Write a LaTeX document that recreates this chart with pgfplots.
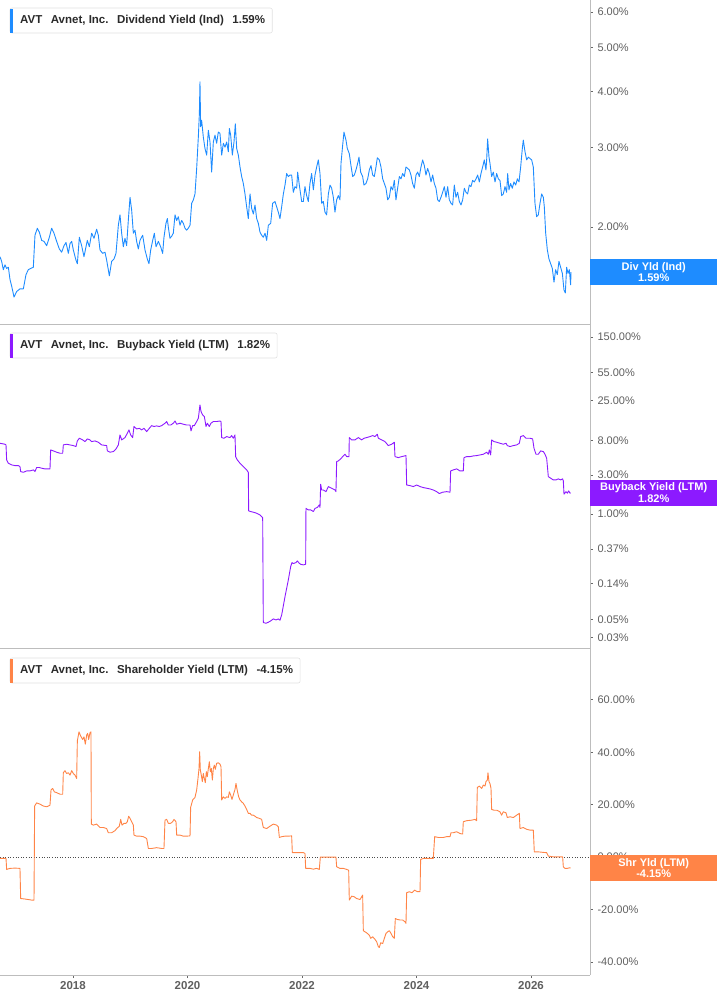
\documentclass[border=0pt]{standalone}
\usepackage{pgfplots}
\pgfplotsset{compat=1.18}
\usepackage{fontspec}
\setmainfont{Liberation Sans}
\usetikzlibrary{calc}
\definecolor{divblue}{HTML}{1E8CFF}
\definecolor{bbpurple}{HTML}{8C1AFF}
\definecolor{shrorange}{HTML}{FF8447}
\definecolor{axisgray}{HTML}{BDBDBD}
\definecolor{ticktext}{HTML}{5F5F5F}
\definecolor{titletext}{HTML}{2A2A2A}

\pgfplotsset{
  panel/.style={
    scale only axis, width=590pt,
    xmin=2016.725, xmax=2027.03,
    axis x line*=bottom, axis y line*=right,
    axis line style={axisgray, line width=0.8pt},
    tick align=outside, major tick length=3pt,
    tick style={black!60, line width=0.8pt},
    yticklabel style={font=\fontsize{11}{13}\selectfont, text=ticktext, xshift=1pt},
    every axis plot/.append style={line width=0.9pt, line join=round, mark=none},
  },
}

% series title box, top left of each panel
\newcommand{\seriesbox}[4]{%
  \node[anchor=west, inner sep=0pt, text=titletext,
        font=\fontsize{11.5}{13}\selectfont\bfseries] (#1) at (20pt,#2) {#4};
  \draw[black!12, line width=0.6pt, rounded corners=2pt]
    ($(#1.west)+(-10pt,12.5pt)$) rectangle ($(#1.east)+(7pt,-12.5pt)$);
  \fill[#3] ($(#1.west)+(-10pt,12pt)$) rectangle ($(#1.west)+(-7pt,-12pt)$);
}
\newcommand{\gap}{\hspace{8.5pt}}
\tikzset{valbox/.style={fill=#1, text=white, anchor=west, minimum width=127pt,
  minimum height=26pt, inner sep=0pt, align=center,
  font=\fontsize{11}{11.5}\selectfont\bfseries}}

\begin{document}
\begin{tikzpicture}
\path[use as bounding box] (0,0) rectangle (717pt,-1005pt);

% ---------------- dividend yield
\begin{axis}[panel, at={(0pt,0pt)}, anchor=north west, height=324pt,
  ymode=log, ymin=1.22, ymax=6.38, xtick=\empty,
  ytick={2,3,4,5,6},
  yticklabels={2.00\%,3.00\%,4.00\%,5.00\%,6.00\%}]
\addplot[divblue] coordinates {
(2016.725,1.72)(2016.754,1.68)(2016.783,1.61)(2016.812,1.65)(2016.841,1.62)(2016.871,1.63)
(2016.900,1.53)(2016.929,1.48)(2016.970,1.40)(2017.016,1.44)(2017.074,1.46)(2017.133,1.46)
(2017.179,1.57)(2017.220,1.61)(2017.261,1.62)(2017.307,1.63)(2017.336,1.92)(2017.377,1.99)
(2017.412,1.95)(2017.453,1.87)(2017.494,1.86)(2017.540,1.82)(2017.587,1.90)(2017.627,1.99)
(2017.668,1.94)(2017.715,1.86)(2017.761,1.79)(2017.802,1.76)(2017.843,1.82)(2017.878,1.85)
(2017.919,1.75)(2017.948,1.84)(2017.977,1.86)(2018.006,1.78)(2018.052,1.69)(2018.076,1.66)
(2018.111,1.90)(2018.151,1.82)(2018.192,1.72)(2018.227,1.81)(2018.250,1.87)(2018.285,1.81)
(2018.326,1.94)(2018.367,1.89)(2018.413,1.98)(2018.442,1.92)(2018.472,1.78)(2018.518,1.75)
(2018.559,1.76)(2018.588,1.69)(2018.635,1.56)(2018.675,1.68)(2018.716,1.70)(2018.751,1.75)
(2018.792,2.02)(2018.821,2.13)(2018.850,1.94)(2018.879,1.81)(2018.908,1.89)(2018.937,1.82)
(2018.966,2.07)(2018.996,2.33)(2019.025,2.18)(2019.054,1.94)(2019.083,1.97)(2019.112,1.86)
(2019.141,1.79)(2019.170,1.87)(2019.217,1.92)(2019.258,1.78)(2019.298,1.70)(2019.327,1.66)
(2019.357,1.78)(2019.392,1.87)(2019.421,1.94)(2019.450,1.81)(2019.491,1.86)(2019.531,1.81)
(2019.566,1.75)(2019.589,1.90)(2019.624,2.04)(2019.648,2.09)(2019.665,2.00)(2019.694,1.89)
(2019.723,1.91)(2019.752,1.94)(2019.782,2.13)(2019.811,2.07)(2019.840,2.11)(2019.869,2.02)
(2019.898,2.07)(2019.927,2.04)(2019.956,1.99)(2019.985,1.97)(2020.014,1.99)(2020.044,2.02)
(2020.073,2.26)(2020.102,2.30)(2020.131,2.37)(2020.160,2.70)(2020.189,3.17)(2020.207,3.56)
(2020.218,4.20)(2020.230,3.34)(2020.247,3.45)(2020.276,3.17)(2020.305,2.99)(2020.335,2.89)
(2020.364,3.28)(2020.393,3.09)(2020.422,2.65)(2020.451,3.09)(2020.480,3.20)(2020.509,3.07)
(2020.538,3.25)(2020.567,3.23)(2020.597,2.89)(2020.626,3.07)(2020.655,3.01)(2020.684,3.09)
(2020.713,2.94)(2020.731,3.31)(2020.754,3.20)(2020.783,2.89)(2020.812,3.09)(2020.835,3.39)
(2020.859,2.99)(2020.888,2.89)(2020.917,2.72)(2020.946,2.59)(2020.975,2.50)(2021.004,2.37)
(2021.033,2.22)(2021.062,2.09)(2021.092,2.37)(2021.121,2.20)(2021.150,2.14)(2021.179,2.24)
(2021.208,2.09)(2021.237,2.04)(2021.266,1.95)(2021.295,1.92)(2021.324,1.90)(2021.354,1.94)
(2021.383,1.87)(2021.412,2.02)(2021.453,2.04)(2021.487,2.26)(2021.528,2.28)(2021.557,2.22)
(2021.586,2.16)(2021.615,2.09)(2021.645,2.22)(2021.674,2.37)(2021.703,2.48)(2021.732,2.63)
(2021.761,2.59)(2021.790,2.61)(2021.819,2.61)(2021.848,2.39)(2021.877,2.46)(2021.907,2.44)
(2021.924,2.65)(2021.953,2.48)(2021.965,2.42)(2021.994,2.28)(2022.023,2.28)(2022.052,2.46)
(2022.081,2.35)(2022.110,2.28)(2022.139,2.50)(2022.168,2.63)(2022.198,2.42)(2022.227,2.61)
(2022.256,2.72)(2022.285,2.82)(2022.314,2.63)(2022.343,2.26)(2022.372,2.28)(2022.401,2.16)
(2022.430,2.13)(2022.460,2.37)(2022.489,2.48)(2022.518,2.44)(2022.547,2.33)(2022.576,2.16)
(2022.605,2.30)(2022.634,2.35)(2022.663,2.30)(2022.681,2.77)(2022.710,3.04)(2022.733,3.25)
(2022.768,3.12)(2022.791,2.99)(2022.826,2.91)(2022.855,2.74)(2022.885,2.59)(2022.914,2.61)
(2022.943,2.68)(2022.972,2.77)(2022.995,2.86)(2023.024,2.65)(2023.059,2.59)(2023.082,2.48)
(2023.117,2.50)(2023.147,2.56)(2023.176,2.68)(2023.205,2.74)(2023.234,2.61)(2023.263,2.59)
(2023.292,2.72)(2023.315,2.85)(2023.350,2.82)(2023.379,2.72)(2023.409,2.56)(2023.438,2.50)
(2023.467,2.44)(2023.496,2.30)(2023.525,2.33)(2023.554,2.46)(2023.583,2.42)(2023.612,2.54)
(2023.641,2.30)(2023.670,2.44)(2023.700,2.59)(2023.729,2.56)(2023.758,2.63)(2023.787,2.59)
(2023.816,2.72)(2023.845,2.70)(2023.874,2.68)(2023.903,2.61)(2023.932,2.50)(2023.962,2.44)
(2023.991,2.61)(2024.020,2.65)(2024.049,2.59)(2024.078,2.72)(2024.107,2.82)(2024.136,2.74)
(2024.165,2.61)(2024.194,2.70)(2024.224,2.63)(2024.253,2.52)(2024.282,2.61)(2024.311,2.50)
(2024.340,2.44)(2024.369,2.30)(2024.398,2.28)(2024.427,2.33)(2024.456,2.39)(2024.486,2.46)
(2024.515,2.33)(2024.544,2.46)(2024.573,2.30)(2024.602,2.26)(2024.631,2.24)(2024.660,2.48)
(2024.689,2.33)(2024.718,2.39)(2024.748,2.28)(2024.777,2.24)(2024.806,2.30)(2024.835,2.44)
(2024.864,2.39)(2024.893,2.37)(2024.922,2.48)(2024.951,2.46)(2024.980,2.54)(2025.010,2.52)
(2025.039,2.56)(2025.068,2.61)(2025.097,2.52)(2025.126,2.63)(2025.155,2.72)(2025.184,2.82)
(2025.213,2.68)(2025.225,2.82)(2025.242,3.14)(2025.266,2.86)(2025.283,2.77)(2025.312,2.59)
(2025.341,2.65)(2025.371,2.52)(2025.400,2.63)(2025.429,2.56)(2025.458,2.54)(2025.487,2.35)
(2025.516,2.37)(2025.545,2.46)(2025.574,2.39)(2025.592,2.63)(2025.615,2.42)(2025.644,2.50)
(2025.673,2.44)(2025.702,2.52)(2025.732,2.48)(2025.761,2.56)(2025.790,2.52)(2025.819,2.72)
(2025.848,2.99)(2025.865,3.12)(2025.895,2.94)(2025.924,2.82)(2025.953,2.86)(2025.982,2.84)
(2026.011,2.82)(2026.040,2.72)(2026.069,2.26)(2026.098,2.11)(2026.127,2.13)(2026.157,2.26)
(2026.186,2.37)(2026.215,2.33)(2026.232,2.22)(2026.256,1.94)(2026.285,1.78)(2026.314,1.70)
(2026.343,1.66)(2026.372,1.62)(2026.401,1.51)(2026.430,1.61)(2026.459,1.57)(2026.488,1.68)
(2026.517,1.63)(2026.547,1.58)(2026.576,1.45)(2026.599,1.43)(2026.622,1.63)(2026.646,1.58)
(2026.669,1.61)(2026.692,1.49)(2026.698,1.59)
};
\coordinate (lab1) at (axis cs:2027.03,1.59);
\end{axis}
\node[valbox=divblue] at (lab1) {Div Yld (Ind)\\1.59\%};
\seriesbox{t1}{-20.5pt}{divblue}{AVT\gap Avnet, Inc.\gap Dividend Yield (Ind)\gap 1.59\%}

% ---------------- buyback yield
\begin{axis}[panel, at={(0pt,-324pt)}, anchor=north west, height=324pt,
  ymode=log, ymin=0.0224, ymax=217, xtick=\empty,
  ytick={0.03,0.05,0.14,0.37,1,3,8,25,55,150},
  yticklabels={0.03\%,0.05\%,0.14\%,0.37\%,1.00\%,3.00\%,8.00\%,25.00\%,55.00\%,150.00\%}]
\addplot[bbpurple] coordinates {
(2016.725,7.40)(2016.812,7.20)(2016.830,7.06)(2016.841,4.62)(2016.871,4.20)(2016.929,4.01)
(2016.987,3.93)(2017.045,3.93)(2017.074,3.82)(2017.086,3.32)(2017.133,3.25)(2017.191,3.38)
(2017.249,3.38)(2017.307,3.48)(2017.336,3.32)(2017.365,3.72)(2017.412,3.72)(2017.453,3.65)
(2017.511,3.58)(2017.569,3.58)(2017.598,3.58)(2017.610,6.13)(2017.657,5.96)(2017.715,5.74)
(2017.773,5.58)(2017.820,5.58)(2017.831,7.06)(2017.889,7.20)(2017.948,7.06)(2018.006,6.93)
(2018.052,6.74)(2018.076,7.91)(2018.111,8.53)(2018.169,8.14)(2018.210,7.76)(2018.250,8.37)
(2018.297,8.14)(2018.326,7.76)(2018.384,7.91)(2018.442,7.62)(2018.501,7.06)(2018.588,6.93)
(2018.600,5.96)(2018.646,5.74)(2018.705,5.85)(2018.751,6.30)(2018.792,7.06)(2018.821,9.37)
(2018.850,8.14)(2018.908,8.69)(2018.949,9.83)(2018.978,10.8)(2019.007,9.37)(2019.042,8.69)
(2019.065,11.9)(2019.112,11.1)(2019.159,11.3)(2019.199,10.8)(2019.240,11.3)(2019.287,10.3)
(2019.333,11.3)(2019.374,12.2)(2019.415,11.9)(2019.461,12.1)(2019.508,11.9)(2019.549,12.2)
(2019.607,13.05)(2019.636,13.7)(2019.665,12.4)(2019.706,12.4)(2019.752,13.05)(2019.782,13.9)
(2019.811,12.7)(2019.869,13.05)(2019.927,12.7)(2019.985,12.4)(2020.044,12.4)(2020.061,10.5)
(2020.090,12.2)(2020.119,12.2)(2020.160,13.7)(2020.189,15.0)(2020.207,19.0)(2020.218,21.9)
(2020.236,18.2)(2020.265,16.5)(2020.294,15.8)(2020.323,11.9)(2020.346,13.05)(2020.381,11.9)
(2020.410,13.05)(2020.451,13.7)(2020.509,13.7)(2020.567,13.9)(2020.585,13.7)(2020.597,8.69)
(2020.637,8.53)(2020.684,8.94)(2020.742,8.69)(2020.771,9.20)(2020.800,8.53)(2020.829,9.37)
(2020.841,5.07)(2020.870,4.62)(2020.917,4.20)(2020.975,3.82)(2021.033,3.48)(2021.062,3.25)
(2021.068,1.09)(2021.103,1.07)(2021.150,1.05)(2021.208,1.02)(2021.266,0.972)(2021.313,0.901)
(2021.324,0.0461)(2021.371,0.0452)(2021.412,0.0465)(2021.453,0.0483)(2021.499,0.0511)
(2021.546,0.0496)(2021.586,0.0511)(2021.615,0.0492)(2021.645,0.0572)(2021.703,0.0961)
(2021.761,0.154)(2021.802,0.225)(2021.825,0.252)(2021.848,0.245)(2021.895,0.252)
(2021.918,0.264)(2021.953,0.247)(2021.976,0.240)(2022.023,0.236)(2022.064,0.240)
(2022.069,1.17)(2022.110,1.12)(2022.151,1.12)(2022.198,1.07)(2022.227,1.17)(2022.267,1.20)
(2022.302,1.29)(2022.314,1.20)(2022.326,2.32)(2022.343,1.97)(2022.372,1.97)(2022.419,1.88)
(2022.460,2.17)(2022.518,2.07)(2022.576,1.97)(2022.593,1.88)(2022.605,4.40)(2022.634,4.49)
(2022.675,4.75)(2022.710,5.07)(2022.751,5.42)(2022.780,5.07)(2022.820,5.07)(2022.826,8.69)
(2022.867,8.14)(2022.925,8.14)(2022.984,8.69)(2023.042,8.14)(2023.082,8.53)(2023.129,8.69)
(2023.187,8.94)(2023.234,9.20)(2023.275,8.94)(2023.315,9.55)(2023.333,8.53)(2023.391,8.14)
(2023.449,7.76)(2023.507,6.93)(2023.566,7.20)(2023.612,7.62)(2023.624,5.07)(2023.682,4.93)
(2023.740,5.07)(2023.816,5.22)(2023.828,2.27)(2023.886,2.23)(2023.944,2.17)(2024.002,2.27)
(2024.061,2.17)(2024.119,2.11)(2024.177,2.07)(2024.235,2.03)(2024.293,1.97)(2024.352,1.88)
(2024.398,1.78)(2024.456,1.85)(2024.526,1.88)(2024.585,1.85)(2024.596,3.38)(2024.643,3.48)
(2024.701,3.58)(2024.759,3.38)(2024.817,3.38)(2024.829,4.93)(2024.876,5.07)(2024.934,5.07)
(2024.992,5.17)(2025.050,5.22)(2025.109,5.32)(2025.167,5.42)(2025.225,5.74)(2025.254,5.42)
(2025.272,6.13)(2025.295,5.32)(2025.312,8.14)(2025.353,7.76)(2025.400,7.62)(2025.458,7.40)
(2025.516,7.20)(2025.563,7.40)(2025.586,6.93)(2025.633,6.74)(2025.691,6.93)(2025.749,7.06)
(2025.796,7.40)(2025.819,8.94)(2025.865,9.20)(2025.912,8.53)(2025.982,8.53)(2026.028,8.37)
(2026.052,6.42)(2026.087,5.42)(2026.127,5.42)(2026.168,5.96)(2026.215,5.85)(2026.244,5.42)
(2026.273,4.84)(2026.302,2.88)(2026.343,2.75)(2026.389,2.62)(2026.436,2.62)(2026.477,2.70)
(2026.518,2.62)(2026.552,2.70)(2026.564,2.55)(2026.576,1.75)(2026.611,1.88)(2026.634,1.80)
(2026.657,1.92)(2026.680,1.80)(2026.692,1.82)
};
\coordinate (lab2) at (axis cs:2027.03,1.82);
\end{axis}
\node[valbox=bbpurple] at (lab2) {Buyback Yield (LTM)\\1.82\%};
\seriesbox{t2}{-345.5pt}{bbpurple}{AVT\gap Avnet, Inc.\gap Buyback Yield (LTM)\gap 1.82\%}

% ---------------- shareholder yield
\begin{axis}[panel, at={(0pt,-648pt)}, anchor=north west, height=327pt,
  ymin=-45, ymax=79.8,
  ytick={-40,-20,0,20,40,60},
  yticklabels={-40.00\%,-20.00\%,0.00\%,20.00\%,40.00\%,60.00\%},
  xtick={2018,2020,2022,2024,2026},
  xticklabels={2018,2020,2022,2024,2026},
  xticklabel style={font=\fontsize{11.5}{13}\selectfont\bfseries, text=ticktext}]
\addplot[black!70, line width=0.8pt, dash pattern=on 1pt off 1.6pt]
  coordinates {(2016.725,0)(2027.03,0)};
\addplot[shrorange] coordinates {
(2016.725,-0.5)(2016.830,-0.5)(2016.841,-4.7)(2016.900,-4.3)(2016.987,-4.2)(2017.074,-4.3)
(2017.086,-15.8)(2017.162,-16.0)(2017.220,-16.2)(2017.278,-16.4)(2017.319,-16.4)
(2017.330,19.5)(2017.365,20.7)(2017.424,20.2)(2017.482,19.5)(2017.540,19.2)(2017.598,19.8)
(2017.616,25.6)(2017.645,26.2)(2017.674,24.9)(2017.715,24.6)(2017.773,24.0)(2017.820,24.0)
(2017.831,32.2)(2017.860,33.0)(2017.889,31.9)(2017.919,32.2)(2017.948,31.3)(2017.977,33.0)
(2018.006,31.9)(2018.035,31.3)(2018.064,30.0)(2018.076,44.4)(2018.105,47.8)(2018.134,46.2)
(2018.169,44.9)(2018.192,45.9)(2018.215,43.1)(2018.239,46.6)(2018.256,47.2)(2018.274,44.9)
(2018.297,47.5)(2018.314,47.8)(2018.320,12.6)(2018.355,12.2)(2018.413,12.6)(2018.472,11.3)
(2018.530,11.3)(2018.588,10.9)(2018.617,9.3)(2018.675,9.3)(2018.734,10.1)(2018.763,10.9)
(2018.809,11.8)(2018.833,14.4)(2018.856,12.2)(2018.891,12.9)(2018.926,12.9)(2018.949,13.5)
(2018.972,15.6)(2018.996,14.8)(2019.025,13.5)(2019.054,12.2)(2019.065,8.4)(2019.112,8.0)
(2019.170,8.0)(2019.228,7.8)(2019.287,7.1)(2019.316,3.3)(2019.374,3.3)(2019.461,3.6)
(2019.549,3.3)(2019.589,3.3)(2019.607,14.1)(2019.636,14.4)(2019.665,12.9)(2019.706,12.9)
(2019.741,13.5)(2019.764,14.4)(2019.799,13.5)(2019.811,8.4)(2019.869,8.4)(2019.927,8.0)
(2019.985,8.0)(2020.044,8.1)(2020.055,19.0)(2020.090,21.8)(2020.131,22.8)(2020.160,25.6)
(2020.183,30.0)(2020.201,33.8)(2020.212,40.2)(2020.224,33.2)(2020.241,31.3)(2020.259,28.8)
(2020.276,31.9)(2020.294,30.0)(2020.311,28.4)(2020.329,32.6)(2020.346,30.7)(2020.364,33.8)
(2020.381,36.4)(2020.399,32.6)(2020.416,33.8)(2020.434,29.4)(2020.451,33.8)(2020.469,35.1)
(2020.486,33.5)(2020.509,35.8)(2020.538,36.0)(2020.567,35.5)(2020.585,34.5)(2020.597,21.8)
(2020.626,23.0)(2020.655,22.4)(2020.684,23.0)(2020.713,22.8)(2020.731,24.9)(2020.754,23.7)
(2020.777,22.0)(2020.800,23.7)(2020.829,25.8)(2020.847,28.1)(2020.870,25.3)(2020.894,23.0)
(2020.917,21.8)(2020.946,21.1)(2020.975,20.5)(2021.004,19.5)(2021.033,18.2)(2021.062,16.7)
(2021.092,16.7)(2021.121,16.0)(2021.150,16.0)(2021.179,15.6)(2021.208,15.1)(2021.254,14.8)
(2021.295,14.4)(2021.324,11.3)(2021.383,10.9)(2021.441,11.8)(2021.499,12.6)(2021.557,12.2)
(2021.586,11.6)(2021.604,7.5)(2021.645,7.8)(2021.703,8.0)(2021.761,8.0)(2021.819,8.1)
(2021.831,1.7)(2021.877,1.7)(2021.936,1.7)(2021.965,1.7)(2022.023,1.7)(2022.052,1.4)
(2022.064,-4.3)(2022.139,-4.3)(2022.198,-4.6)(2022.256,-4.3)(2022.302,-4.7)(2022.320,0.0)
(2022.372,0.0)(2022.489,0.0)(2022.593,0.0)(2022.605,-3.7)(2022.663,-4.3)(2022.722,-4.3)
(2022.780,-4.7)(2022.815,-5.0)(2022.826,-16.4)(2022.867,-14.9)(2022.908,-15.1)(2022.954,-15.8)
(2023.013,-16.2)(2023.059,-14.5)(2023.071,-28.1)(2023.129,-28.9)(2023.176,-29.8)(2023.199,-31.0)
(2023.234,-30.4)(2023.275,-31.4)(2023.304,-32.3)(2023.333,-34.2)(2023.350,-34.5)(2023.374,-32.7)
(2023.409,-33.0)(2023.438,-31.0)(2023.467,-29.1)(2023.496,-28.5)(2023.525,-28.1)(2023.554,-29.1)
(2023.583,-30.4)(2023.612,-31.0)(2023.630,-23.4)(2023.665,-23.8)(2023.711,-24.0)(2023.758,-24.0)
(2023.799,-24.7)(2023.816,-25.3)(2023.828,-13.6)(2023.874,-13.2)(2023.921,-13.6)(2023.967,-12.6)
(2024.014,-13.2)(2024.061,-13.2)(2024.072,-0.9)(2024.119,-0.5)(2024.177,-0.5)(2024.235,-0.5)
(2024.293,-0.5)(2024.317,7.8)(2024.381,7.5)(2024.468,7.5)(2024.526,7.8)(2024.585,7.8)
(2024.602,9.3)(2024.643,9.3)(2024.701,9.7)(2024.759,9.0)(2024.806,8.8)(2024.817,13.5)
(2024.876,13.9)(2024.963,14.1)(2025.021,14.4)(2025.050,13.9)(2025.062,26.6)(2025.097,27.1)
(2025.138,26.2)(2025.167,27.5)(2025.196,27.1)(2025.213,28.8)(2025.237,29.4)(2025.248,32.2)
(2025.266,28.8)(2025.283,28.1)(2025.301,26.2)(2025.312,18.2)(2025.353,17.9)(2025.400,17.9)
(2025.458,17.3)(2025.487,16.0)(2025.516,17.3)(2025.563,16.9)(2025.586,15.1)(2025.633,15.4)
(2025.691,15.1)(2025.749,16.0)(2025.796,16.7)(2025.807,10.9)(2025.865,11.3)(2025.924,10.6)
(2025.982,10.3)(2026.040,10.3)(2026.057,2.0)(2026.127,2.0)(2026.215,1.8)(2026.273,1.7)
(2026.302,0.4)(2026.389,0.1)(2026.477,0.1)(2026.552,0.1)(2026.564,-3.7)(2026.593,-4.3)
(2026.634,-4.3)(2026.669,-4.1)(2026.692,-4.15)
};
\coordinate (lab3) at (axis cs:2027.03,-4.15);
\end{axis}
\node[valbox=shrorange] at (lab3) {Shr Yld (LTM)\\-4.15\%};
\seriesbox{t3}{-670.5pt}{shrorange}{AVT\gap Avnet, Inc.\gap Shareholder Yield (LTM)\gap -4.15\%}
\end{tikzpicture}
\end{document}
